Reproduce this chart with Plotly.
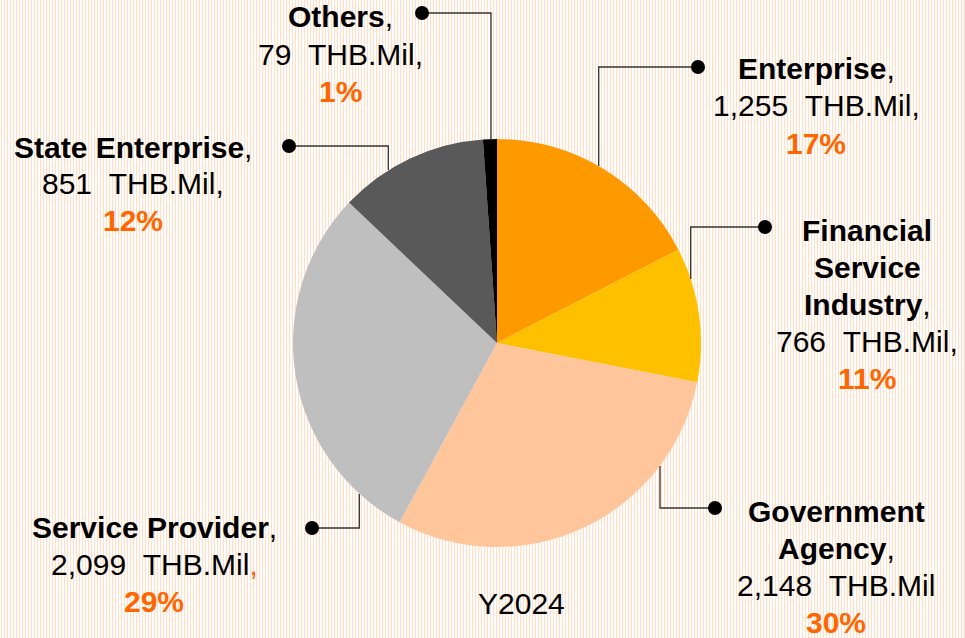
import plotly.graph_objects as go

# ---- data ----
categories = ["Enterprise", "Financial Service Industry", "Government Agency",
              "Service Provider", "State Enterprise", "Others"]
name_lines = [["Enterprise"], ["Financial", "Service", "Industry"], ["Government", "Agency"],
              ["Service Provider"], ["State Enterprise"], ["Others"]]
values = [1255, 766, 2148, 2099, 851, 79]
percents = ["17%", "11%", "30%", "29%", "12%", "1%"]
value_suffix = [",", ",", "", "orange", ",", ","]
colors = ["#FF9900", "#FFC000", "#FFC69C", "#BFBFBF", "#595959", "#000000"]
year_label = "Y2024"

# ---- layout helpers (pixels) ----
W, H = 965, 638
ORANGE = "#FF6600"
FONT = "Liberation Sans, Arial, sans-serif"
cx, cy, r = 497, 343, 204
LINE_H = 37

def px(x):
    return x / W

def py(y):
    return 1 - y / H

# label centres (px)
label_pos = [(816, 106), (867, 304), (836, 567), (154, 564), (133, 184), (340, 54)]
# leader lines: (edge point, corner, dot)
leaders = [
    ((598.7, 166), (598.7, 67), (698, 67)),
    ((690.7, 279), (690.7, 227), (765, 227)),
    ((660, 466), (660, 508), (715, 508)),
    ((359.3, 494), (359.3, 528), (312, 528)),
    ((388.3, 170), (388.3, 146), (289, 146)),
    ((491, 140), (491, 13), (422, 13)),
]

fig = go.Figure()
fig.add_trace(go.Pie(
    labels=categories, values=values, sort=False, direction="clockwise",
    rotation=0, marker=dict(colors=colors, line=dict(width=0)),
    textinfo="none", hoverinfo="label+value+percent", showlegend=False,
    domain=dict(x=[px(cx - r), px(cx + r)], y=[py(cy + r), py(cy - r)]),
))

shapes = []
# striped background
for i in range(0, W // 3 + 1):
    xx = px(3 * i + 1.5)
    shapes.append(dict(type="line", xref="paper", yref="paper", x0=xx, x1=xx, y0=0, y1=1,
                       line=dict(color="#FDE0CC", width=1.2), layer="below"))

for (e, c, d) in leaders:
    shapes.append(dict(type="path", xref="paper", yref="paper",
                       path=f"M {px(e[0])} {py(e[1])} L {px(c[0])} {py(c[1])} L {px(d[0])} {py(d[1])}",
                       line=dict(color="#333333", width=1.3), layer="above"))
    rd = 7
    shapes.append(dict(type="circle", xref="paper", yref="paper",
                       x0=px(d[0] - rd), x1=px(d[0] + rd), y0=py(d[1] + rd), y1=py(d[1] - rd),
                       fillcolor="#000000", line=dict(color="#000000", width=0), layer="above"))

annotations = []
for names, v, pct, suf, (lx, ly) in zip(name_lines, values, percents, value_suffix, label_pos):
    suf_txt = f"<span style='color:{ORANGE}'>,</span>" if suf == "orange" else suf
    lines = [f"<b>{n}</b>" for n in names]
    lines[-1] += ","
    lines.append(f"{v:,}\u00a0\u00a0THB.Mil{suf_txt}")
    lines.append(f"<span style='color:{ORANGE}'><b>{pct}</b></span>")
    n = len(lines)
    for k, t in enumerate(lines):
        yy = ly + (k - (n - 1) / 2) * LINE_H
        annotations.append(dict(text=t, x=px(lx), y=py(yy), xref="paper", yref="paper",
                                xanchor="center", yanchor="middle", showarrow=False,
                                font=dict(family=FONT, size=30, color="#000000")))
annotations.append(dict(text=year_label, x=px(521), y=py(603), xref="paper", yref="paper",
                        xanchor="center", yanchor="middle", showarrow=False,
                        font=dict(family=FONT, size=30, color="#000000")))

fig.update_layout(
    width=W, height=H, margin=dict(l=0, r=0, t=0, b=0),
    paper_bgcolor="#FFFFFF", plot_bgcolor="#FFFFFF",
    shapes=shapes, annotations=annotations,
)
fig.write_html("out.html", config={"displayModeBar": False},
               post_script="document.body.style.margin='0';")
